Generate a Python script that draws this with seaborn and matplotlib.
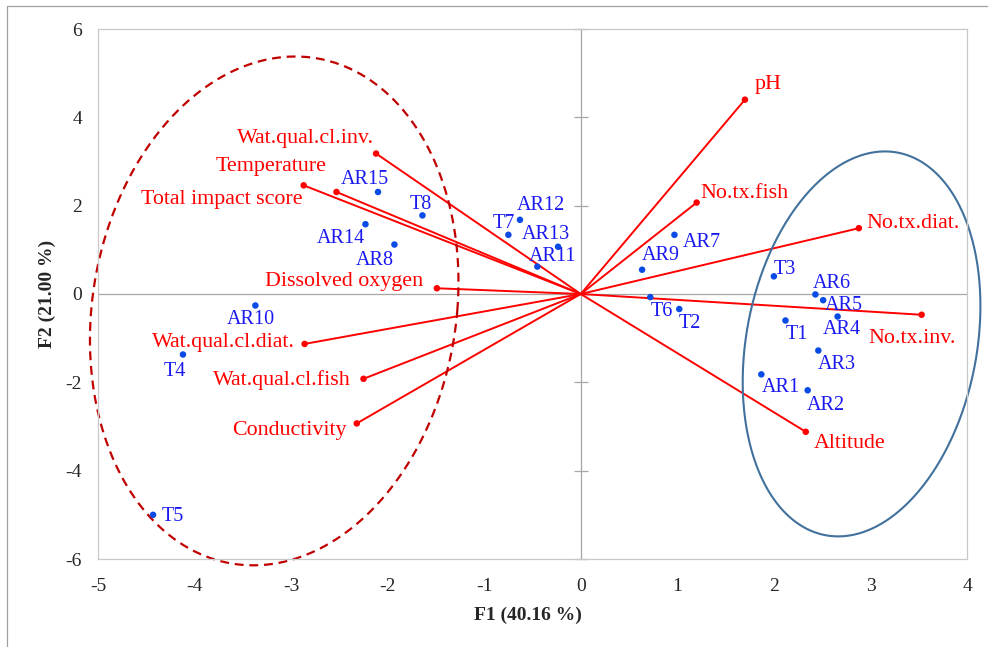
import numpy as np
import pandas as pd
import seaborn as sns
import matplotlib.pyplot as plt
from matplotlib.lines import Line2D

# sites (observation scores on F1 / F2)
site_names = ['AR1', 'AR2', 'AR3', 'AR4', 'AR5', 'AR6', 'AR7', 'AR8', 'AR9', 'AR10',
              'AR11', 'AR12', 'AR13', 'AR14', 'AR15',
              'T1', 'T2', 'T3', 'T4', 'T5', 'T6', 'T7', 'T8']
site_f1 = [1.87, 2.35, 2.46, 2.66, 2.51, 2.43, 0.97, -1.93, 0.635, -3.37,
           -0.45, -0.63, -0.235, -2.23, -2.10,
           2.12, 1.02, 2.00, -4.12, -4.43, 0.72, -0.75, -1.64]
site_f2 = [-1.82, -2.18, -1.28, -0.51, -0.14, -0.01, 1.34, 1.12, 0.55, -0.26,
           0.62, 1.68, 1.07, 1.58, 2.31,
           -0.60, -0.34, 0.40, -1.37, -5.00, -0.07, 1.34, 1.78]

# variables (loadings)
var_names = ['pH', 'No.tx.fish', 'No.tx.diat.', 'No.tx.inv.', 'Altitude',
             'Wat.qual.cl.inv.', 'Temperature', 'Total impact score', 'Dissolved oxygen',
             'Wat.qual.cl.diat.', 'Wat.qual.cl.fish', 'Conductivity']
var_f1 = [1.70, 1.20, 2.88, 3.53, 2.33, -2.12, -2.53, -2.87, -1.49, -2.86, -2.25, -2.32]
var_f2 = [4.40, 2.07, 1.49, -0.47, -3.12, 3.18, 2.31, 2.46, 0.13, -1.13, -1.92, -2.93]

x_ticks = [-5, -4, -3, -2, -1, 0, 1, 2, 3, 4]
y_ticks = [-6, -4, -2, 0, 2, 4, 6]

# group ellipses: centre x, centre y, half-width, half-height, shear
group_left = (-3.175, -0.383, 1.896, 5.76, 0.217)
group_right = (2.908, -1.13, 1.207, 4.358, 0.242)

# label placement (ha, dx px, dy px from the point, baseline)
var_label_pos = {
    'pH': ('left', 9.6, 10.7), 'No.tx.fish': ('left', 4, 4.7),
    'No.tx.diat.': ('left', 7, 0), 'No.tx.inv.': ('center', -10, -28.3),
    'Altitude': ('left', 7.6, -16), 'Wat.qual.cl.inv.': ('right', -2.4, 10.7),
    'Temperature': ('right', -10, 20.6), 'Total impact score': ('right', -1.4, -18.3),
    'Dissolved oxygen': ('right', -14, 2), 'Wat.qual.cl.diat.': ('right', -10, -3.4),
    'Wat.qual.cl.fish': ('right', -12.6, -6.7), 'Conductivity': ('right', -10, -11.3),
}
site_label_pos = {
    'AR15': ('left', -37, 8), 'T8': ('center', -2, 6.4), 'AR14': ('right', 0, -18.4),
    'AR8': ('right', -0.7, -20.3), 'T7': ('center', -4.3, 6.7), 'AR12': ('left', -3.6, 9.6),
    'AR13': ('right', 12, 7.7), 'AR11': ('left', -9, 5.7), 'AR10': ('center', -5, -19),
    'T4': ('center', -8.3, -21.7), 'T5': ('left', 8.7, -5.7), 'AR7': ('left', 8, -11.7),
    'AR9': ('left', 0, 10), 'T3': ('left', 0, 2.7), 'AR6': ('left', -2.7, 6.4),
    'AR5': ('left', 1.7, -10.3), 'T6': ('left', 0, -18.7), 'T2': ('left', -1, -19),
    'T1': ('left', 0.7, -18.6), 'AR4': ('left', -14.4, -17.6), 'AR3': ('left', -0.7, -18.3),
    'AR1': ('left', 0, -18), 'AR2': ('left', -0.7, -19.3),
}

sites = pd.DataFrame({'name': site_names, 'F1': site_f1, 'F2': site_f2})
variables = pd.DataFrame({'name': var_names, 'F1': var_f1, 'F2': var_f2})

sns.set_style('white')
plt.rcParams['font.family'] = ['Liberation Serif', 'DejaVu Serif']

fig = plt.figure(figsize=(9.88, 6.47), dpi=100)
ax = fig.add_axes([98 / 988, 88 / 647, 869 / 988, 530 / 647])

axis_grey = '#A6A6A6'
ax.axhline(0, color=axis_grey, lw=0.9, zorder=1)
ax.axvline(0, color=axis_grey, lw=0.9, zorder=1)
ax.plot(np.zeros(len(y_ticks)), y_ticks, ls='none', marker='_', ms=10,
        mew=0.9, color=axis_grey, clip_on=False, zorder=1)

# variable vectors
for _, r in variables.iterrows():
    ax.plot([0, r.F1], [0, r.F2], color='#FF0000', lw=1.4, zorder=2)
sns.scatterplot(data=variables, x='F1', y='F2', color='#FF0000', s=22,
                edgecolor='none', ax=ax, zorder=3)

sns.scatterplot(data=sites, x='F1', y='F2', color='#0A4BE6', s=22,
                edgecolor='none', ax=ax, zorder=3)

for _, r in variables.iterrows():
    ha, dx, dy = var_label_pos[r['name']]
    ax.annotate(r['name'], (r.F1, r.F2), xytext=(dx, dy), textcoords='offset pixels',
                ha=ha, va='baseline', color='#FF0000', fontsize=15.8)

for _, r in sites.iterrows():
    ha, dx, dy = site_label_pos[r['name']]
    ax.annotate(r['name'], (r.F1, r.F2), xytext=(dx, dy), textcoords='offset pixels',
                ha=ha, va='baseline', color='#1A1AF0', fontsize=14.5)

# group ellipses
t = np.linspace(0, 2 * np.pi, 400)
cx, cy, a, b, c = group_left
ax.plot(cx + a * np.cos(t) + c * np.sin(t), cy + b * np.sin(t), color='#C00000',
        lw=1.6, ls=(0, (4, 2.6)), clip_on=False, zorder=2)
cx, cy, a, b, c = group_right
ax.plot(cx + a * np.cos(t) + c * np.sin(t), cy + b * np.sin(t), color='#41719C',
        lw=1.5, clip_on=False, zorder=2)

ax.set_xlim(-5, 4)
ax.set_ylim(-6, 6)
ax.set_xticks(x_ticks)
ax.set_yticks(y_ticks)
ax.set_xticklabels([str(v) for v in x_ticks])
ax.set_yticklabels([str(v) for v in y_ticks])
ax.tick_params(axis='x', length=0, pad=14, labelsize=14)
ax.tick_params(axis='y', length=0, pad=11.5, labelsize=14)
for s in ax.spines.values():
    s.set_color('#C8C8C8')
    s.set_linewidth(0.9)

ax.set_xlabel('F1 (40.16 %)', fontsize=14, fontweight='bold')
ax.set_ylabel('F2 (21.00 %)', fontsize=14, fontweight='bold', va='center')
ax.xaxis.set_label_coords(0.495, -0.106)
ax.xaxis.label.set_va('center')
ax.yaxis.set_label_coords(-0.058, 0.5)

# outer frame (top and left edges only)
fig.add_artist(Line2D([7 / 988, 1], [1 - 6 / 647, 1 - 6 / 647], color='#A0A0A0', lw=0.9))
fig.add_artist(Line2D([7 / 988, 7 / 988], [0, 1 - 6 / 647], color='#A0A0A0', lw=0.9))

fig.savefig('out.png', dpi=100)
